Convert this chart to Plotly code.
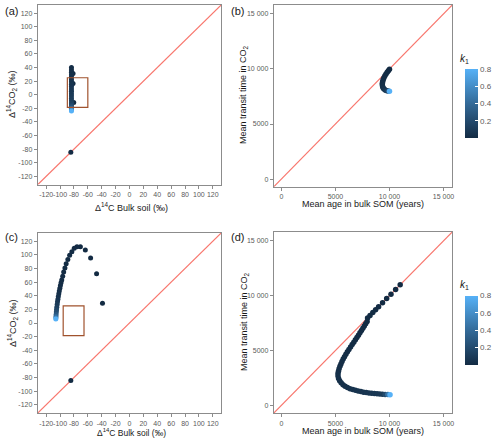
import plotly.graph_objects as go

# ---------------- data ----------------
# Panel (a): Delta14C bulk soil vs Delta14CO2 (per mil)
a_x = [-84.5, -80.3, -81.3, -81.3,
       -83.6, -83.6, -83.6, -83.6, -83.6, -83.6, -83.6, -83.6, -83.6, -83.6, -83.6,
       -83.6, -83.6, -83.6, -83.6, -83.6, -83.6, -83.6, -83.6, -83.6, -83.6]
a_y = [-84.5, -11.3, 16.7, 31.4,
       40, 36.5, 33, 29.5, 26, 22.5, 19, 15.5, 12, 8.5, 5,
       1.5, -2, -5.5, -9, -12, -15, -17.5, -20, -22, -24]
a_k1 = [0.001, 0.003, 0.006, 0.01,
        0.015, 0.02, 0.025, 0.03, 0.035, 0.04, 0.05, 0.055, 0.06, 0.07, 0.08,
        0.09, 0.1, 0.11, 0.12, 0.14, 0.18, 0.25, 0.38, 0.55, 0.8]

# Panel (b): mean age in bulk SOM vs mean transit time in CO2 (years)
b_x = [10000, 9900, 9790, 9680, 9580, 9490, 9420, 9370, 9340, 9340, 9370, 9430,
       9520, 9630, 9760, 9890, 10000]
b_y = [9980, 9840, 9690, 9530, 9370, 9200, 9030, 8860, 8690, 8530, 8380, 8250,
       8150, 8070, 8020, 7990, 7980]
b_k1 = [0.001, 0.003, 0.004, 0.005, 0.007, 0.009, 0.012, 0.015, 0.02, 0.025, 0.03,
        0.04, 0.05, 0.07, 0.1, 0.2, 0.8]

# Panel (c)
c_x = [-84.5, -38.9, -47.4, -56.0, -63.6, -70.7, -75.6, -79.6, -83.0, -86.2, -88.8,
       -91.2, -93.0, -94.8, -96.2, -97.6,
       -98.6, -99.5, -100.3, -101.1, -101.8, -102.5, -103.1, -103.7, -104.2,
       -104.7, -105.1, -105.4, -105.7, -105.9, -106.0, -106.1]
c_y = [-84.2, 28.9, 72.3, 95.3, 107, 112, 112, 109.5, 104.5, 99.5, 93,
       86.8, 80.6, 74.8, 68.7, 63,
       59, 55, 51, 47, 43, 39, 35, 31, 27,
       23, 19.5, 16, 12.5, 9.5, 7.5, 6]
c_k1 = [0.001, 0.001, 0.0015, 0.002, 0.0025, 0.003, 0.0035, 0.004, 0.0045, 0.005, 0.0055,
        0.006, 0.007, 0.008, 0.009, 0.01,
        0.012, 0.015, 0.02, 0.026, 0.033, 0.045, 0.06, 0.08, 0.1,
        0.13, 0.17, 0.22, 0.3, 0.4, 0.55, 0.8]

# Panel (d)
d_x = [10990, 10570, 10140, 9740, 9360, 8995, 8720, 8460, 8200, 7975,
       7930, 7800, 7670, 7540, 7410, 7270, 7130, 6990, 6850, 6700, 6550, 6400,
       6250, 6110, 5970, 5840, 5720, 5610, 5510, 5420, 5340, 5280, 5240, 5240,
       5290, 5390, 5530, 5700, 5890, 6110, 6350, 6600, 6850, 7100, 7350, 7600,
       7850, 8100, 8350, 8600, 8850, 9100, 9350, 9600, 9850, 10050]
d_y = [10990, 10570, 10140, 9740, 9360, 8995, 8720, 8460, 8200, 7975,
       7650, 7450, 7240, 7030, 6820, 6610, 6400, 6190, 5980, 5760, 5540, 5320,
       5100, 4880, 4660, 4440, 4220, 4000, 3780, 3560, 3340, 3120, 2900, 2680,
       2460, 2250, 2060, 1890, 1750, 1630, 1530, 1450, 1380, 1320, 1260, 1210,
       1170, 1140, 1110, 1085, 1060, 1040, 1020, 1005, 990, 975]
d_k1 = [0.001, 0.0015, 0.002, 0.0025, 0.003, 0.0035, 0.004, 0.0045, 0.005, 0.0055,
        0.006, 0.0065, 0.007, 0.0075, 0.008, 0.0085, 0.009, 0.0095, 0.01, 0.011,
        0.012, 0.013, 0.014, 0.015, 0.016, 0.017, 0.018, 0.019, 0.02, 0.022,
        0.024, 0.026, 0.028, 0.03, 0.032, 0.034, 0.036, 0.038, 0.04, 0.043,
        0.046, 0.049, 0.052, 0.055, 0.058, 0.061, 0.064, 0.067, 0.07, 0.074,
        0.078, 0.085, 0.1, 0.2, 0.45, 0.8]

# Observed ranges (rectangles)
obs_a_x = [-89.5, -60.0]
obs_c_x = [-95.5, -65.5]
obs_y = [-18.5, 25.0]

# axis ranges / ticks
delta_range = [-132, 132]
delta_ticks = [-120, -100, -80, -60, -40, -20, 0, 20, 40, 60, 80, 100, 120]
age_range = [-690, 15800]
age_ticks = [0, 5000, 10000, 15000]
age_ticktext = ["0", "5000", "10 000", "15 000"]
k1_ticks = [0.2, 0.4, 0.6, 0.8]
k1_ticktext = ["0.2", "0.4", "0.6", "0.8"]

# ---------------- styling ----------------
W, H = 500, 441
FONT = "Liberation Sans, Arial, sans-serif"
LINE_RED = "#F8766D"
RECT_COL = "#A0522D"
BORDER = "#8C8C8C"
TICKCOL = "#5A5A5A"
SCALE = [[0, "#132B43"], [0.5, "#336A98"], [1, "#56B1F7"]]


def px(x):
    return x / W


def py(y):
    return 1 - y / H


fig = go.Figure()

panels = [
    ("x", "y", a_x, a_y, a_k1, delta_range, "coloraxis", 5),
    ("x2", "y2", b_x, b_y, b_k1, age_range, "coloraxis", 5.5),
    ("x3", "y3", c_x, c_y, c_k1, delta_range, "coloraxis2", 5),
    ("x4", "y4", d_x, d_y, d_k1, age_range, "coloraxis2", 5.5),
]

for xa, ya, xs, ys, ks, rng, cax, msize in panels:
    # 1:1 line
    fig.add_trace(go.Scatter(x=rng, y=rng, xaxis=xa, yaxis=ya, mode="lines",
                             line=dict(color=LINE_RED, width=1.1), hoverinfo="skip"))
    fig.add_trace(go.Scatter(x=xs, y=ys, xaxis=xa, yaxis=ya, mode="markers",
                             marker=dict(size=msize, color=ks, coloraxis=cax,
                                         line=dict(width=0))))

# rectangles of observed values
for xref, yref, ox in [("x", "y", obs_a_x), ("x3", "y3", obs_c_x)]:
    fig.add_shape(type="rect", xref=xref, yref=yref, x0=ox[0], x1=ox[1],
                  y0=obs_y[0], y1=obs_y[1], line=dict(color=RECT_COL, width=1.2))

k_all_1 = a_k1 + b_k1
k_all_2 = c_k1 + d_k1


def axis_common():
    return dict(showgrid=False, zeroline=False, showline=True, mirror=True,
                linecolor=BORDER, linewidth=1.2, ticks="outside", ticklen=3,
                tickcolor=BORDER, tickwidth=1, tickangle=0,
                tickfont=dict(family=FONT, size=7, color=TICKCOL))


def delta_axis(domain, anchor):
    d = axis_common()
    d.update(domain=domain, range=delta_range, anchor=anchor, tickmode="array",
             tickvals=delta_ticks, ticktext=[str(v) for v in delta_ticks])
    return d


def age_axis(domain, anchor):
    d = axis_common()
    d.update(domain=domain, range=age_range, anchor=anchor, tickmode="array",
             tickvals=age_ticks, ticktext=age_ticktext)
    return d


xa_dom = [px(38), px(222)]
xb_dom = [px(275), px(454)]
ya_dom = [py(184.5), py(5)]
yb_dom = [py(186.7), py(5)]
yc_dom = [py(413), py(233)]
yd_dom = [py(413), py(232)]


def cbar(ycenter):
    return dict(x=px(467), xanchor="left", y=py(ycenter), yanchor="middle",
                len=69 / H, lenmode="fraction", thickness=13, thicknessmode="pixels",
                outlinewidth=0, xpad=0, ypad=0, tickmode="array", tickvals=k1_ticks,
                ticktext=k1_ticktext,
                ticks="inside", tickcolor="white", ticklen=3,
                tickfont=dict(family=FONT, size=8, color=TICKCOL))


fig.update_layout(
    width=W, height=H, margin=dict(l=0, r=0, t=0, b=0),
    paper_bgcolor="white", plot_bgcolor="white", showlegend=False,
    font=dict(family=FONT, color="#1A1A1A"),
    xaxis=delta_axis(xa_dom, "y"), yaxis=delta_axis(ya_dom, "x"),
    xaxis2=age_axis(xb_dom, "y2"), yaxis2=age_axis(yb_dom, "x2"),
    xaxis3=delta_axis(xa_dom, "y3"), yaxis3=delta_axis(yc_dom, "x3"),
    xaxis4=age_axis(xb_dom, "y4"), yaxis4=age_axis(yd_dom, "x4"),
    coloraxis=dict(colorscale=SCALE, cmin=min(k_all_1), cmax=max(k_all_1),
                   colorbar=cbar(103.5)),
    coloraxis2=dict(colorscale=SCALE, cmin=min(k_all_2), cmax=max(k_all_2),
                    colorbar=cbar(330)),
)

ann = []


def text(x, y, s, size=9, angle=0, xanchor="center"):
    ann.append(dict(x=px(x), y=py(y), xref="paper", yref="paper", text=s,
                    showarrow=False, textangle=angle, xanchor=xanchor,
                    yanchor="middle", font=dict(family=FONT, size=size, color="#1A1A1A")))


d14co2 = "Δ<sup>14</sup>CO<sub>2</sub> (‰)"
d14c = "Δ<sup>14</sup>C Bulk soil (‰)"
mtt = "Mean transit time in CO<sub>2</sub>"
mage = "Mean age in bulk SOM (years)"

text(3, 11, "(a)", size=11, xanchor="left")
text(230, 11, "(b)", size=11, xanchor="left")
text(3, 237, "(c)", size=11, xanchor="left")
text(230, 237, "(d)", size=11, xanchor="left")

text(12, 94, d14co2, angle=-90)
text(245, 95, mtt, angle=-90)
text(12, 323, d14co2, angle=-90)
text(245, 322, mtt, angle=-90)

text(132, 206.5, d14c)
text(364, 204, mage)
text(132, 432, d14c, size=8.5)
text(364, 431, mage)

text(466, 59, "<i>k</i><sub>1</sub>", size=10)
text(466, 285, "<i>k</i><sub>1</sub>", size=10)

fig.update_layout(annotations=ann)

fig.write_html("out.html", config={"displayModeBar": False},
               post_script="document.body.style.margin='0';document.body.style.padding='0';")
